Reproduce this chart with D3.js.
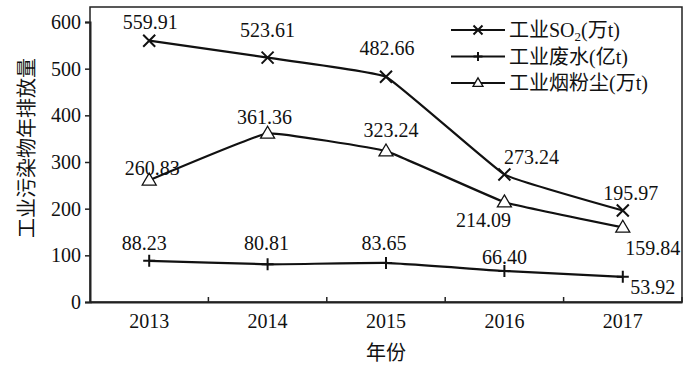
<!DOCTYPE html>
<html>
<head>
<meta charset="utf-8">
<script src="https://cdn.jsdelivr.net/npm/d3@7"></script>
<style>
  body { margin: 0; background: #fff; }
  svg text { font-family: 'Liberation Serif', 'Times New Roman', Times, 'DejaVu Serif', 'Noto Sans CJK SC', serif; }
  svg text.cjk { font-family: 'Noto Sans CJK SC', sans-serif; }
</style>
</head>
<body>
<div class="viz"></div>
<script>
'use strict'

const years = ['2013', '2014', '2015', '2016', '2017'];
const so2 = [559.91, 523.61, 482.66, 273.24, 195.97];
const water = [88.23, 80.81, 83.65, 66.40, 53.92];
const dust = [260.83, 361.36, 323.24, 214.09, 159.84];
const y_ticks = [0, 100, 200, 300, 400, 500, 600];

const width = 700,
  height = 367;
const margin = {top: 7, right: 18, bottom: 65, left: 90};

// label offsets (dx, dy of the text centre from the point)
const off_so2 = [[1, -19], [0, -28], [1, -29], [27, -17], [8, -18]];
const off_dust = [[3, -12], [-3, -16], [5, -21], [-21, 18], [30, 21]];
const off_water = [[-5, -18], [-1, -21], [-2, -20], [0, -14], [30, 10]];

let svg = d3.select('.viz')
  .append('svg')
  .attr('width', width)
  .attr('height', height);

let x = d3.scaleBand()
  .domain(years)
  .range([margin.left, width - margin.right]);
let y = d3.scaleLinear()
  .domain([0, 600])
  .range([302, 22]);

// frame
svg.append('rect')
  .attr('x', margin.left)
  .attr('y', margin.top)
  .attr('width', width - margin.right - margin.left)
  .attr('height', y(0) - margin.top)
  .attr('fill', 'none')
  .attr('stroke', '#222')
  .attr('stroke-width', 1.5);

// y axis
let gy = svg.append('g')
  .attr('transform', `translate(${margin.left},0)`)
  .call(d3.axisLeft(y).tickValues(y_ticks).tickSize(5).tickPadding(4))
  .attr('font-family', null);
gy.select('.domain').attr('stroke', '#222').attr('stroke-width', 2);
gy.selectAll('.tick line').attr('stroke', '#222').attr('stroke-width', 1.5);
gy.selectAll('text').attr('font-size', 20).attr('fill', '#111');

// x axis: labels centred, ticks at band edges pointing up
let gx = svg.append('g')
  .attr('transform', `translate(0,${y(0)})`)
  .call(d3.axisBottom(x).tickSize(0).tickPadding(12))
  .attr('font-family', null);
gx.select('.domain').attr('stroke', '#222').attr('stroke-width', 2);
gx.selectAll('text').attr('font-size', 20).attr('fill', '#111');
svg.append('g')
  .selectAll('line')
  .data(years.slice(1).concat(['end']))
  .join('line')
  .attr('x1', d => d === 'end' ? x.range()[1] : x(d))
  .attr('x2', d => d === 'end' ? x.range()[1] : x(d))
  .attr('y1', y(0))
  .attr('y2', y(0) - 5)
  .attr('stroke', '#222')
  .attr('stroke-width', 1.5);

// axis titles
svg.append('text')
  .attr('class', 'cjk')
  .attr('transform', `translate(34,148) rotate(-90)`)
  .attr('text-anchor', 'middle')
  .attr('font-size', 20)
  .attr('fill', '#111')
  .text('工业污染物年排放量');
svg.append('text')
  .attr('class', 'cjk')
  .attr('x', (margin.left + width - margin.right) / 2)
  .attr('y', 360)
  .attr('text-anchor', 'middle')
  .attr('font-size', 20)
  .attr('fill', '#111')
  .text('年份');

const cx = d => x(d) + x.bandwidth() / 2;

const series = [
  {key: 'so2', values: so2, marker: 'x', offsets: off_so2},
  {key: 'water', values: water, marker: 'plus', offsets: off_water},
  {key: 'dust', values: dust, marker: 'tri', offsets: off_dust}
];

let line = d3.line()
  .x((d, i) => cx(years[i]))
  .y(d => y(d))
  .curve(d3.curveCardinal.tension(0.75));

function marker(g, type, size) {
  if (type === 'x') {
    g.append('path')
      .attr('d', `M${-size},${-size}L${size},${size}M${-size},${size}L${size},${-size}`)
      .attr('stroke', '#111').attr('stroke-width', 2).attr('fill', 'none');
  } else if (type === 'plus') {
    g.append('path')
      .attr('d', `M${-size},0L${size},0M0,${-size}L0,${size}`)
      .attr('stroke', '#111').attr('stroke-width', 2).attr('fill', 'none');
  } else {
    let h = size * 1.7;
    g.append('path')
      .attr('d', `M0,${-h * 0.6}L${size},${h * 0.4}L${-size},${h * 0.4}Z`)
      .attr('stroke', '#111').attr('stroke-width', 1.3).attr('fill', '#fff');
  }
}

series.forEach(s => {
  svg.append('path')
    .attr('d', line(s.values))
    .attr('fill', 'none')
    .attr('stroke', '#111')
    .attr('stroke-width', 2.2);
  s.values.forEach((v, i) => {
    let g = svg.append('g')
      .attr('transform', `translate(${cx(years[i])},${y(v)})`);
    marker(g, s.marker, s.marker === 'tri' ? 7 : 6);
  });
  svg.append('g')
    .selectAll('text')
    .data(s.values)
    .join('text')
    .attr('x', (d, i) => cx(years[i]) + s.offsets[i][0])
    .attr('y', (d, i) => y(d) + s.offsets[i][1] + 7)
    .attr('text-anchor', 'middle')
    .attr('font-size', 20)
    .attr('fill', '#111')
    .text(d => d.toFixed(2));
});

// legend
const legend_items = [
  {marker: 'x', parts: [['工业SO', 0], ['2', 1], ['(万t)', 0]]},
  {marker: 'plus', parts: [['工业废水(亿t)', 0]]},
  {marker: 'tri', parts: [['工业烟粉尘(万t)', 0]]}
];
let lg = svg.append('g')
  .selectAll('g')
  .data(legend_items)
  .join('g')
  .attr('transform', (d, i) => `translate(451,${30 + i * 26.5})`);
lg.append('line')
  .attr('x1', 0).attr('x2', 54)
  .attr('stroke', '#111').attr('stroke-width', 2.2);
lg.each(function(d) {
  let g = d3.select(this).append('g').attr('transform', 'translate(27,0)');
  marker(g, d.marker, d.marker === 'tri' ? 5 : 4.5);
  let t = d3.select(this).append('text')
    .attr('x', 58)
    .attr('y', 7)
    .attr('font-size', 20)
    .attr('fill', '#111');
  d.parts.forEach(p => {
    let ts = t.append('tspan').text(p[0]);
    if (p[1]) ts.attr('font-size', 13).attr('dy', 4);
    else if (t.selectAll('tspan').size() > 1) ts.attr('dy', -4);
  });
});
</script>
</body>
</html>
